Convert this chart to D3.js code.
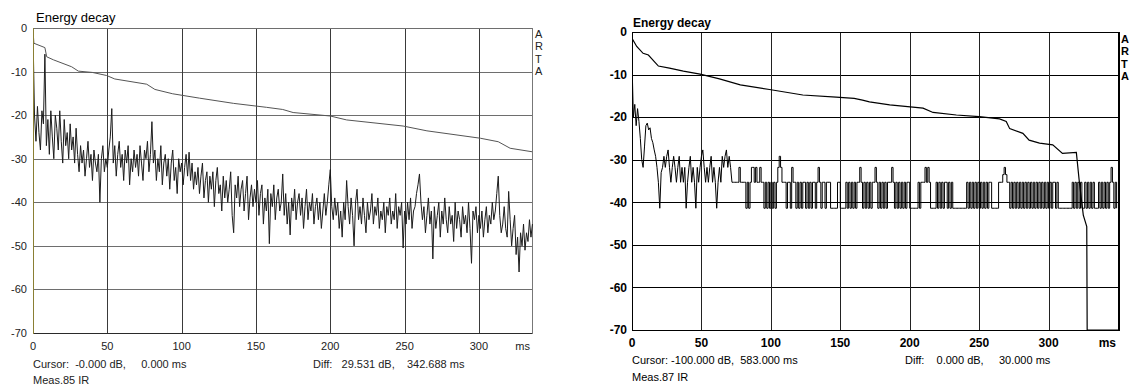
<!DOCTYPE html>
<html>
<head>
<meta charset="utf-8">
<script src="https://cdn.jsdelivr.net/npm/d3@7"></script>
<style>
    body { margin: 0; background: #fff; }
    svg { display: block; }
    text { font-family: "Liberation Sans", Arial, sans-serif; white-space: pre; }
</style>
</head>
<body>
<svg id="chart" width="1131" height="385"></svg>
<script>
// axis ticks shared by both panels
var xTicks = [0, 50, 100, 150, 200, 250, 300];
var yTicks = [0, -10, -20, -30, -40, -50, -60, -70];

// ---- left panel (Meas.85) ----
var leftDecayMs = [0, 0.6, 8, 9.2, 13.7, 26, 30.5, 40, 49.5, 55, 76.5, 82, 94, 112, 135, 157, 168, 175, 200, 211, 249, 265, 301, 313, 321, 335.7];
var leftDecayDb = [-0.5, -3.5, -4.5, -6.6, -7.3, -8.9, -9.9, -10.2, -10.9, -11.7, -12.9, -14.1, -15.1, -16.1, -17.3, -18.2, -18.7, -19.4, -20.2, -21.1, -22.5, -23.6, -25.3, -26.1, -27.6, -28.4];
// energy time curve, one value per ms
var leftNoiseDb = [
    -1, -20, -26, -18, -24, -28, -19, -22, -6, -27,
    -21, -29, -19, -25, -30, -20, -23, -28, -19, -26,
    -31, -21, -27, -24, -30, -22, -28, -25, -31, -23,
    -29, -33, -27, -31, -28, -34, -30, -26, -32, -29,
    -35, -28, -31, -33, -29, -40, -30, -27, -33, -30,
    -32, -28, -25, -18.5, -31, -27, -34, -29, -26, -32,
    -29, -35, -28, -31, -27, -36, -30, -33, -28, -32,
    -29, -34, -27, -31, -35, -28, -30, -26, -33, -29,
    -21.5, -31, -28, -35, -30, -33, -27, -36, -31, -29,
    -34, -30, -37, -31, -28, -35, -32, -38, -30, -33,
    -31, -36, -32, -29, -34, -28.5, -35, -31, -37, -33,
    -36, -32, -38, -34, -31, -39, -35, -33, -40, -34,
    -37, -33, -41, -35, -32, -38, -36, -42, -34, -39,
    -35, -40, -37, -33, -43, -47, -36, -39, -34, -41,
    -37, -35, -42, -38, -34, -44, -39, -36, -41, -37,
    -40, -35, -43, -38, -36, -45, -39, -42, -37, -49.5,
    -38, -41, -36, -44, -39, -37, -42, -40, -33.5, -43,
    -38, -45, -40, -47.5, -39, -42, -37, -44, -40, -38,
    -43, -39, -46, -41, -37, -44, -40, -42, -38, -45,
    -41, -39, -44, -40, -46, -42, -38, -43, -40, -36,
    -32.5, -41, -44, -39, -43, -40, -46, -42, -48, -40,
    -44, -35, -41, -45, -39, -43, -50, -40, -37, -44,
    -41, -45, -39, -43, -47, -40, -44, -42, -38, -45,
    -41, -43, -39, -46, -42, -44, -40, -47, -41, -43,
    -39, -45, -42, -44, -38, -46, -41, -43, -40, -50.5,
    -42, -45, -40, -44, -39, -46, -42, -41, -38, -36,
    -33.5, -40, -44, -41, -47, -43, -39, -45, -42, -53,
    -41, -46, -43, -40, -48, -42, -45, -39, -44, -47,
    -41, -45, -43, -49, -40, -46, -42, -44, -48, -41,
    -45, -43, -47, -40, -46, -54, -42, -44, -41, -47,
    -43, -46, -42, -48, -44, -41, -47, -43, -45, -40,
    -44, -42, -38, -34, -43, -47, -45, -41, -46, -48,
    -37.5, -44, -50, -46, -43, -52, -48, -56, -47, -50,
    -45, -51, -47, -49, -44, -48, -45
];

// ---- right panel (Meas.87) ----
var rightDecayMs = [0, 3.4, 8, 11.8, 19, 27, 37, 49, 63, 78, 99, 123, 147, 160, 166, 171, 185.6, 209.6, 216.8, 233.6, 250, 264.7, 269.5, 272, 281.5, 286, 293.5, 303, 310, 320, 322, 325, 327.5, 327.8, 350];
var rightDecayDb = [-1.5, -3.4, -5, -5.4, -8, -8.5, -9.2, -9.9, -11, -12.4, -13.5, -14.8, -15.3, -15.6, -16, -16.4, -17.1, -17.9, -18.9, -19.5, -19.9, -20.4, -21, -22.7, -23.8, -25.4, -26.1, -26.5, -28.5, -28.3, -34.7, -43, -45.7, -70, -70];
// quantised energy time curve, one value per ms
var rightNoiseDb = [
    -7, -20, -17, -22, -18, -21, -25, -30, -31.8, -27,
    -22, -21.4, -23, -22.5, -25, -26, -27.7, -29.2, -31.8, -35.3,
    -41.4, -33, -31.8, -29.2, -31.8, -29.2, -27.7, -31.8, -35.3, -31.8,
    -29.2, -31.8, -35.3, -31.8, -29.2, -35.3, -31.8, -35.3, -31.8, -41.4,
    -35.3, -31.8, -29.2, -35.3, -31.8, -35.3, -41.4, -31.8, -35.3, -31.8,
    -29.2, -27.7, -31.8, -35.3, -31.8, -35.3, -31.8, -29.2, -35.3, -31.8,
    -35.3, -41.4, -35.3, -31.8, -35.3, -29.2, -31.8, -29.2, -27.7, -31.8,
    -29.2, -31.8, -35.3, -35.3, -35.3, -35.3, -35.3, -31.8, -35.3, -35.3,
    -35.3, -35.3, -41.4, -35.3, -41.4, -35.3, -31.8, -31.8, -35.3, -31.8,
    -35.3, -35.3, -31.8, -35.3, -35.3, -41.4, -35.3, -41.4, -35.3, -41.4,
    -35.3, -41.4, -35.3, -41.4, -35.3, -31.8, -29.2, -31.8, -35.3, -35.3,
    -35.3, -41.4, -35.3, -35.3, -41.4, -31.8, -35.3, -35.3, -41.4, -35.3,
    -41.4, -35.3, -41.4, -35.3, -35.3, -41.4, -35.3, -41.4, -35.3, -41.4,
    -35.3, -35.3, -41.4, -35.3, -31.8, -35.3, -41.4, -35.3, -35.3, -41.4,
    -35.3, -35.3, -35.3, -41.4, -41.4, -41.4, -41.4, -41.4, -35.3, -35.3,
    -41.4, -41.4, -41.4, -41.4, -35.3, -41.4, -35.3, -41.4, -35.3, -41.4,
    -35.3, -41.4, -35.3, -35.3, -31.8, -35.3, -41.4, -35.3, -41.4, -35.3,
    -41.4, -35.3, -41.4, -35.3, -35.3, -31.8, -35.3, -41.4, -35.3, -41.4,
    -35.3, -41.4, -35.3, -41.4, -35.3, -35.3, -35.3, -31.8, -35.3, -41.4,
    -35.3, -41.4, -35.3, -41.4, -35.3, -41.4, -35.3, -41.4, -35.3, -35.3,
    -41.4, -41.4, -41.4, -41.4, -41.4, -41.4, -35.3, -41.4, -35.3, -35.3,
    -35.3, -31.8, -35.3, -31.8, -35.3, -41.4, -41.4, -41.4, -41.4, -35.3,
    -41.4, -35.3, -41.4, -35.3, -41.4, -35.3, -35.3, -41.4, -35.3, -41.4,
    -35.3, -41.4, -41.4, -41.4, -41.4, -41.4, -41.4, -41.4, -41.4, -41.4,
    -41.4, -35.3, -41.4, -35.3, -41.4, -35.3, -41.4, -35.3, -41.4, -35.3,
    -41.4, -35.3, -41.4, -35.3, -41.4, -35.3, -41.4, -35.3, -35.3, -41.4,
    -41.4, -41.4, -41.4, -41.4, -35.3, -35.3, -35.3, -33.5, -31.8, -33.5,
    -35.3, -35.3, -41.4, -35.3, -41.4, -35.3, -41.4, -35.3, -41.4, -35.3,
    -41.4, -35.3, -41.4, -35.3, -41.4, -35.3, -41.4, -35.3, -41.4, -35.3,
    -41.4, -35.3, -41.4, -35.3, -41.4, -35.3, -41.4, -35.3, -41.4, -35.3,
    -41.4, -35.3, -41.4, -35.3, -35.3, -41.4, -35.3, -41.4, -41.4, -41.4,
    -41.4, -41.4, -41.4, -41.4, -41.4, -41.4, -41.4, -35.3, -41.4, -35.3,
    -41.4, -35.3, -41.4, -35.3, -41.4, -41.4, -35.3, -41.4, -35.3, -41.4,
    -35.3, -41.4, -35.3, -41.4, -41.4, -41.4, -35.3, -41.4, -35.3, -41.4,
    -35.3, -41.4, -35.3, -41.4, -35.3, -31.8, -35.3, -41.4, -35.3, -41.4
];

var svg = d3.select("#chart");

function drawPanel(p) {
    var g = svg.append("g");
    var x = d3.scaleLinear().domain([0, p.maxMs]).range([p.left, p.right]);
    var y = d3.scaleLinear().domain([-70, 0]).range([p.bottom, p.top]);
    var snap = function (v) { return Math.round(v) + 0.5; };

    // grid
    g.selectAll(".hgrid").data(yTicks).enter().append("line")
        .attr("x1", p.left).attr("x2", p.right)
        .attr("y1", function (d) { return snap(y(d)); })
        .attr("y2", function (d) { return snap(y(d)); })
        .attr("shape-rendering", "crispEdges")
        .style("stroke", p.hGrid);
    g.selectAll(".vgrid").data(xTicks).enter().append("line")
        .attr("x1", function (d) { return snap(x(d)); })
        .attr("x2", function (d) { return snap(x(d)); })
        .attr("y1", p.top).attr("y2", p.bottom)
        .attr("shape-rendering", "crispEdges")
        .style("stroke", p.vGrid);

    // frame
    g.append("line").attr("x1", p.left).attr("x2", p.right).attr("y1", snap(p.top)).attr("y2", snap(p.top))
        .attr("shape-rendering", "crispEdges").style("stroke", p.topColor);
    g.append("line").attr("x1", p.left).attr("x2", p.right).attr("y1", snap(p.bottom)).attr("y2", snap(p.bottom))
        .attr("shape-rendering", "crispEdges").style("stroke", p.bottomColor);
    g.append("line").attr("x1", snap(p.right)).attr("x2", snap(p.right)).attr("y1", p.top).attr("y2", p.bottom + 1)
        .attr("shape-rendering", "crispEdges").style("stroke", p.rightColor).style("stroke-width", p.rightWidth);

    var clipId = "clip" + p.id;
    svg.append("clipPath").attr("id", clipId).append("rect")
        .attr("x", p.left).attr("y", p.top).attr("width", p.right - p.left + 1).attr("height", p.bottom - p.top + 1);

    // energy time curve: early part as a plain line, the rest stepped (quantised levels)
    var pts = p.noise.map(function (d, i) { return [i * p.stepMs, d]; });
    var early = pts.filter(function (d) { return d[0] <= p.stepFromMs; });
    var late = pts.filter(function (d) { return d[0] >= p.stepFromMs; });
    var plain = d3.line().x(function (d) { return x(d[0]); }).y(function (d) { return y(d[1]); });
    var stepped = d3.line().curve(d3.curveStepAfter).x(function (d) { return x(d[0]); }).y(function (d) { return y(d[1]); });
    [[early, plain], [late, stepped]].forEach(function (part) {
        if (part[0].length < 2) return;
        g.append("path")
            .attr("clip-path", "url(#" + clipId + ")")
            .attr("d", part[1](part[0]))
            .style("fill", "none")
            .style("stroke", p.noiseColor)
            .style("stroke-width", p.noiseWidth);
    });

    // decay curve
    var decayLine = d3.line()
        .x(function (d) { return x(d[0]); })
        .y(function (d) { return y(d[1]); });
    g.append("path")
        .attr("clip-path", "url(#" + clipId + ")")
        .attr("d", decayLine(d3.zip(p.decayMs, p.decayDb)))
        .style("fill", "none")
        .style("stroke", p.decayColor)
        .style("stroke-width", p.decayWidth);

    // left border / cursor line
    g.append("line").attr("x1", snap(p.left)).attr("x2", snap(p.left)).attr("y1", p.top).attr("y2", p.bottom + 1)
        .attr("shape-rendering", "crispEdges").style("stroke", p.leftColor);

    // tick labels
    g.selectAll(".ylab").data(yTicks).enter().append("text")
        .attr("x", p.left - p.yLabelGap)
        .attr("y", function (d) { return y(d); })
        .attr("dy", "0.36em")
        .attr("text-anchor", "end")
        .style("font-size", p.tickFont).style("font-weight", p.tickWeight).style("fill", p.textColor)
        .text(function (d) { return d; });
    g.selectAll(".xlab").data(xTicks).enter().append("text")
        .attr("x", function (d) { return x(d); })
        .attr("y", p.bottom + p.xLabelDrop)
        .attr("text-anchor", "middle")
        .style("font-size", p.tickFont).style("font-weight", p.tickWeight).style("fill", p.textColor)
        .text(function (d) { return d; });
    g.append("text")
        .attr("x", p.right - 2).attr("y", p.bottom + p.xLabelDrop)
        .attr("text-anchor", "end")
        .style("font-size", p.tickFont).style("font-weight", p.tickWeight).style("fill", p.textColor)
        .text("ms");

    // title
    g.append("text")
        .attr("x", p.titleX).attr("y", p.titleY)
        .style("font-size", p.titleFont).style("font-weight", p.titleWeight).style("fill", "#000")
        .text("Energy decay");

    // ARTA mark
    g.selectAll(".arta").data(["A", "R", "T", "A"]).enter().append("text")
        .attr("x", p.right + p.artaGap)
        .attr("y", function (d, i) { return p.artaY + i * 12.3; })
        .style("font-size", "11px").style("font-weight", p.tickWeight).style("fill", p.textColor)
        .text(function (d) { return d; });

    // status lines
    g.append("text").attr("x", p.left).attr("y", p.cursorY)
        .style("font-size", "11px").style("fill", p.textColor).text(p.cursorText);
    g.append("text").attr("x", p.left).attr("y", p.measY)
        .style("font-size", "11px").style("fill", p.textColor).text(p.measText);
    g.append("text").attr("x", p.diffX).attr("y", p.cursorY)
        .style("font-size", "11px").style("fill", p.textColor).text(p.diffText);
}

drawPanel({
    id: "L", left: 33, right: 532, top: 28, bottom: 333, maxMs: 335.7, stepMs: 1, stepFromMs: 1000,
    noise: leftNoiseDb, decayMs: leftDecayMs, decayDb: leftDecayDb,
    hGrid: "#6e6e6e", vGrid: "#3a3a3a", topColor: "#6e6e6e", bottomColor: "#2a2a2a",
    rightColor: "#777", rightWidth: 1, leftColor: "#8a7f34",
    noiseColor: "#1c1c1c", noiseWidth: 1, decayColor: "#555", decayWidth: 1,
    tickFont: "11px", tickWeight: "normal", textColor: "#222",
    yLabelGap: 6, xLabelDrop: 17,
    titleX: 36, titleY: 22, titleFont: "13px", titleWeight: "normal",
    artaGap: 3, artaY: 38,
    cursorY: 368, measY: 383.5, diffX: 313,
    cursorText: "Cursor:  -0.000 dB,     0.000 ms",
    measText: "Meas.85 IR",
    diffText: "Diff:   29.531 dB,    342.688 ms"
});

drawPanel({
    id: "R", left: 632, right: 1118, top: 32, bottom: 330, maxMs: 350, stepMs: 1, stepFromMs: 72,
    noise: rightNoiseDb, decayMs: rightDecayMs, decayDb: rightDecayDb,
    hGrid: "#000", vGrid: "#222", topColor: "#000", bottomColor: "#000",
    rightColor: "#000", rightWidth: 2, leftColor: "#000",
    noiseColor: "#000", noiseWidth: 1, decayColor: "#000", decayWidth: 1.2,
    tickFont: "12px", tickWeight: "bold", textColor: "#000",
    yLabelGap: 5, xLabelDrop: 16.5,
    titleX: 633, titleY: 26.5, titleFont: "12px", titleWeight: "bold",
    artaGap: 3, artaY: 43,
    cursorY: 364, measY: 380.5, diffX: 905,
    cursorText: "Cursor: -100.000 dB,  583.000 ms",
    measText: "Meas.87 IR",
    diffText: "Diff:    0.000 dB,     30.000 ms"
});
</script>
</body>
</html>
